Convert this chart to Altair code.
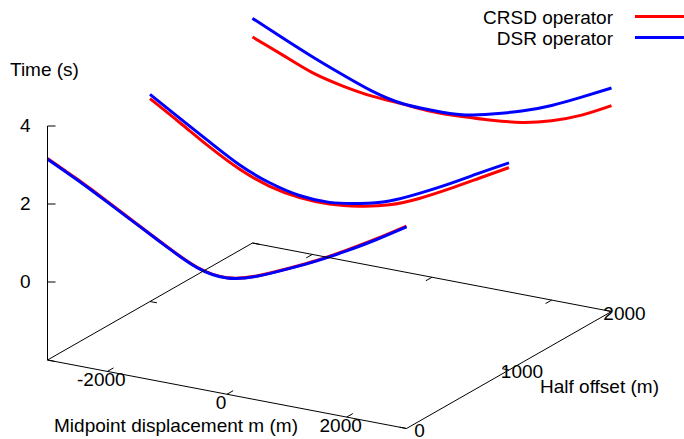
import altair as alt
import pandas as pd

# ---------------------------------------------------------------------------
# Data: traveltime curves t(m) for three half offsets h
# ---------------------------------------------------------------------------
midpoints = [-3000, -2500, -2000, -1500, -1000, -500, 0, 500, 1000, 1500, 2000, 2500, 3000]
half_offsets = [0, 1000, 2000]

crsd_times = {
    0:    [3.17, 2.78, 2.36, 1.92, 1.49, 1.11, 0.99, 1.18, 1.51, 1.87, 2.28, 2.72, 3.19],
    1000: [3.20, 2.73, 2.25, 1.83, 1.54, 1.40, 1.38, 1.47, 1.65, 1.96, 2.35, 2.77, 3.19],
    2000: [3.28, 2.97, 2.66, 2.47, 2.35, 2.30, 2.25, 2.27, 2.32, 2.41, 2.60, 2.89, 3.28],
}
dsr_times = {
    0:    [3.15, 2.76, 2.34, 1.91, 1.48, 1.10, 0.98, 1.17, 1.50, 1.86, 2.26, 2.70, 3.17],
    1000: [3.31, 2.84, 2.38, 1.94, 1.63, 1.45, 1.42, 1.54, 1.75, 2.09, 2.48, 2.90, 3.31],
    2000: [3.76, 3.41, 3.07, 2.76, 2.48, 2.31, 2.28, 2.31, 2.48, 2.70, 2.99, 3.35, 3.73],
}

series_names = ["CRSD operator", "DSR operator"]
series_colors = ["#ff0000", "#0000ff"]

# Axis ranges and tics
m_range = [-3000, 3000]
h_range = [0, 2000]
t_base = -2
t_top = 4
m_tics = [-2000, 0, 2000]
h_tics = [0, 1000, 2000]
t_tics = [0, 2, 4]

FONT = "Liberation Sans"
FS = 19

# ---------------------------------------------------------------------------
# Orthographic projection of (m, h, t) onto the page
# ---------------------------------------------------------------------------
def proj_x(mf, hf):
    return (f"47.5 + (datum.{mf} + 3000) / 6000 * 359"
            f" + datum.{hf} / 2000 * 205")


def proj_y(mf, hf, tf):
    return (f"360 + (datum.{mf} + 3000) / 6000 * 68.5"
            f" - datum.{hf} / 2000 * 117 - (datum.{tf} + 2) * 39")


X = alt.X("px:Q", scale=alt.Scale(domain=[0, 684], nice=False, zero=False), axis=None)
Y = alt.Y("py:Q", scale=alt.Scale(domain=[0, 439], nice=False, zero=False, reverse=True), axis=None)


def projected(df, m="m", h="h", t="t"):
    return alt.Chart(df).transform_calculate(px=proj_x(m, h), py=proj_y(m, h, t))


# ---------------------------------------------------------------------------
# Curves
# ---------------------------------------------------------------------------
def curve_frame(times, name):
    rows = []
    for h in half_offsets:
        for m, t in zip(midpoints, times[h]):
            rows.append({"m": m, "h": h, "t": t, "series": name})
    return pd.DataFrame(rows)


curve_layers = []
for name, color, times in zip(series_names, series_colors, [crsd_times, dsr_times]):
    curve_layers.append(
        projected(curve_frame(times, name))
        .mark_line(color=color, strokeWidth=3, interpolate="natural")
        .encode(x=X, y=Y, detail="h:N", order="m:Q")
    )

# ---------------------------------------------------------------------------
# Base box and vertical axis
# ---------------------------------------------------------------------------
box = pd.DataFrame({
    "m": [m_range[0], m_range[1], m_range[1], m_range[0], m_range[0]],
    "h": [h_range[0], h_range[0], h_range[1], h_range[1], h_range[0]],
    "t": [t_base] * 5,
    "k": [0, 1, 2, 3, 4],
})
box_layer = projected(box).mark_line(color="black", strokeWidth=1).encode(
    x=X, y=Y, order="k:Q"
)

segs = []
# vertical time axis
segs.append({"m": m_range[0], "h": h_range[0], "t": t_base,
             "m2": m_range[0], "h2": h_range[0], "t2": t_top, "dx": 0})
# midpoint tics on front and back edges (pointing inward along h)
for m in m_tics:
    segs.append({"m": m, "h": h_range[0], "t": t_base, "m2": m, "h2": h_range[0] + 60, "t2": t_base, "dx": 0})
    segs.append({"m": m, "h": h_range[1], "t": t_base, "m2": m, "h2": h_range[1] - 60, "t2": t_base, "dx": 0})
# half-offset tics on both side edges (pointing inward along m)
for h in h_tics:
    segs.append({"m": m_range[1], "h": h, "t": t_base, "m2": m_range[1] - 115, "h2": h, "t2": t_base, "dx": 0})
    segs.append({"m": m_range[0], "h": h, "t": t_base, "m2": m_range[0] + 115, "h2": h, "t2": t_base, "dx": 0})
# time tics (horizontal on the page)
for t in t_tics:
    segs.append({"m": m_range[0], "h": h_range[0], "t": t,
                 "m2": m_range[0], "h2": h_range[0], "t2": t, "dx": 8})
seg_df = pd.DataFrame(segs)

seg_layer = (
    alt.Chart(seg_df)
    .transform_calculate(
        px=proj_x("m", "h"), py=proj_y("m", "h", "t"),
        px2=proj_x("m2", "h2") + " + datum.dx", py2=proj_y("m2", "h2", "t2"),
    )
    .mark_rule(color="black", strokeWidth=1)
    .encode(x=X, y=Y, x2="px2:Q", y2="py2:Q")
)

# ---------------------------------------------------------------------------
# Tic labels
# ---------------------------------------------------------------------------
text_style = dict(font=FONT, fontSize=FS, color="black", baseline="middle")

t_lab = pd.DataFrame({"m": m_range[0], "h": h_range[0], "t": t_tics,
                      "label": [str(v) for v in t_tics]})
t_lab_layer = projected(t_lab).mark_text(align="right", dx=-17, **text_style).encode(
    x=X, y=Y, text="label:N"
)

m_lab = pd.DataFrame({"m": m_tics, "h": h_range[0], "t": t_base,
                      "label": [str(v) for v in m_tics]})
m_lab_layer = projected(m_lab).mark_text(align="center", dx=-6, dy=9, **text_style).encode(
    x=X, y=Y, text="label:N"
)

h_lab = pd.DataFrame({"m": m_range[1], "h": h_tics, "t": t_base,
                      "label": [str(v) for v in h_tics]})
h_lab_layer = projected(h_lab).mark_text(align="center", dx=13, dy=2, **text_style).encode(
    x=X, y=Y, text="label:N"
)

# ---------------------------------------------------------------------------
# Axis titles
# ---------------------------------------------------------------------------
def label(text, x, y, align):
    return alt.Chart(pd.DataFrame({"s": [text]})).mark_text(
        align=align, **text_style
    ).encode(x=alt.value(x), y=alt.value(y), text="s:N")


titles = [
    label("Time (s)", 10, 70, "left"),
    label("Midpoint displacement m (m)", 176, 426, "center"),
    label("Half offset (m)", 540, 387, "left"),
]

# ---------------------------------------------------------------------------
# Key (top right)
# ---------------------------------------------------------------------------
key_layers = []
for i, (name, color) in enumerate(zip(series_names, series_colors)):
    yy = 18 + 21 * i
    key_layers.append(label(name, 613, yy, "right"))
    key_layers.append(
        alt.Chart(pd.DataFrame({"s": [name]})).mark_rule(color=color, strokeWidth=3).encode(
            x=alt.value(635), x2=alt.value(684), y=alt.value(yy - 1.5)
        )
    )

chart = (
    alt.layer(*curve_layers, box_layer, seg_layer, t_lab_layer, m_lab_layer,
              h_lab_layer, *titles, *key_layers)
    .properties(width=684, height=439, padding=0, autosize="none", background="white")
    .configure_view(stroke=None)
)

chart.save("out.html", embed_options={"renderer": "svg", "actions": False})
